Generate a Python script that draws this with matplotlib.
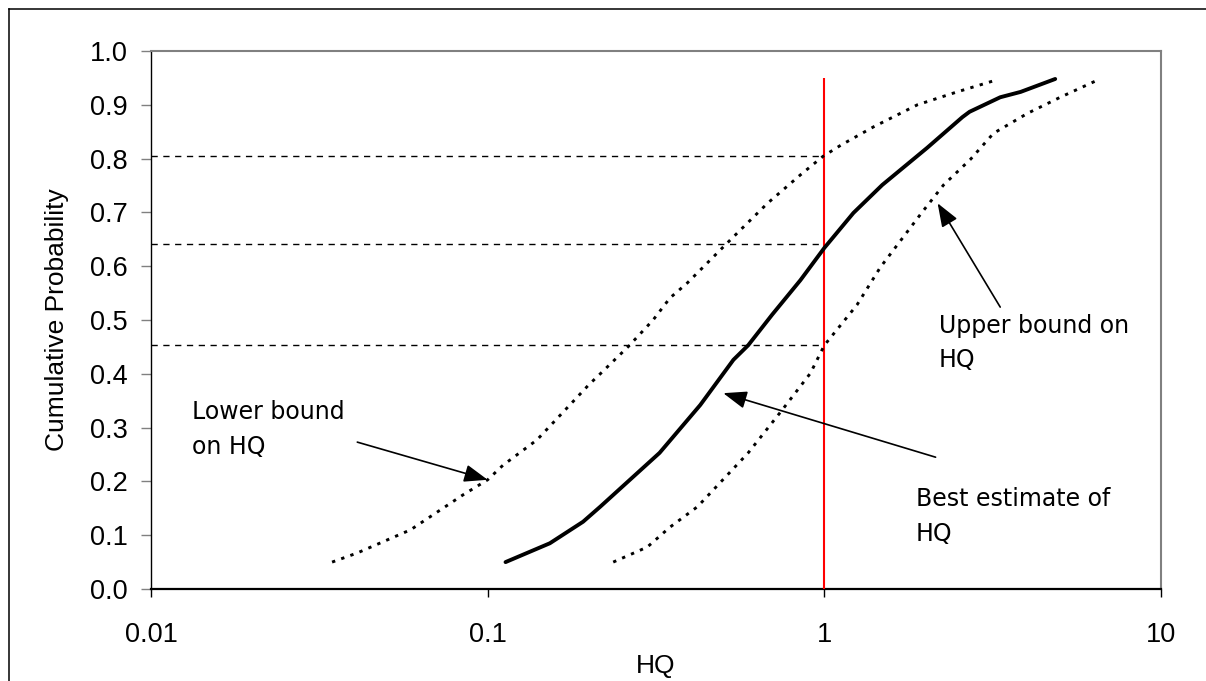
import matplotlib
matplotlib.use("Agg")
import matplotlib.pyplot as plt
from matplotlib.lines import Line2D
from matplotlib.ticker import NullLocator

# ---- data ----
best_x = [0.113, 0.153, 0.192, 0.216, 0.324, 0.428, 0.537, 0.594, 0.70, 0.849,
          1.0, 1.22, 1.486, 2.02, 2.57, 2.70, 3.33, 3.83, 4.85]
best_y = [0.05, 0.085, 0.125, 0.153, 0.253, 0.342, 0.426, 0.453, 0.51, 0.574,
          0.634, 0.699, 0.751, 0.82, 0.877, 0.887, 0.914, 0.924, 0.948]

lower_x = [0.0345, 0.041, 0.059, 0.0845, 0.10, 0.111, 0.14, 0.17, 0.20, 0.216,
           0.262, 0.31, 0.348, 0.392, 0.526, 0.678, 0.85, 0.99, 1.12, 1.40,
           1.89, 2.48, 3.16]
lower_y = [0.05, 0.067, 0.11, 0.175, 0.203, 0.23, 0.277, 0.333, 0.38, 0.40,
           0.451, 0.50, 0.541, 0.569, 0.649, 0.717, 0.77, 0.804, 0.825, 0.859,
           0.90, 0.924, 0.944]

upper_x = [0.236, 0.298, 0.348, 0.42, 0.594, 0.75, 0.909, 1.0, 1.25, 1.467,
           1.95, 2.26, 2.72, 3.18, 4.01, 5.02, 6.38]
upper_y = [0.05, 0.078, 0.115, 0.153, 0.253, 0.333, 0.401, 0.453, 0.528, 0.598,
           0.70, 0.751, 0.799, 0.847, 0.884, 0.914, 0.944]

ref_levels = [0.805, 0.641, 0.453]   # horizontal dashed read-off lines
hq_threshold = 1.0
threshold_top = 0.95

x_ticks = [0.01, 0.1, 1, 10]
x_tick_labels = ["0.01", "0.1", "1", "10"]
y_ticks = [i / 10 for i in range(11)]
y_tick_labels = [f"{v:.1f}" for v in y_ticks]

plt.rcParams["lines.scale_dashes"] = False

fig = plt.figure(figsize=(12.06, 6.81), dpi=100)
W, H = 1206, 681
ax = fig.add_axes([151 / W, 1 - 589 / H, (1161 - 151) / W, (589 - 51) / H])

ax.set_xscale("log")
ax.set_xlim(0.01, 10)
ax.set_ylim(0, 1.0)

# reference lines
ax.hlines(ref_levels, xmin=0.01, xmax=hq_threshold, colors="black",
          linewidth=1.0, linestyles=(0, (4.5, 4.0)), zorder=2)
ax.vlines(hq_threshold, 0, threshold_top, colors="red", linewidth=1.5, zorder=3)

# curves
dot = (0, (2.4, 4.6))
ax.plot(lower_x, lower_y, color="black", linewidth=2.1, linestyle=dot, zorder=4)
ax.plot(upper_x, upper_y, color="black", linewidth=2.1, linestyle=dot, zorder=4)
ax.plot(best_x, best_y, color="black", linewidth=2.8, solid_capstyle="round", zorder=5)

# annotations
afont = dict(family="DejaVu Sans", size=17)
arrow = dict(arrowstyle="-|>,head_length=0.8,head_width=0.3", mutation_scale=18,
             color="black", lw=1.2, shrinkA=0, shrinkB=0)

ax.annotate("", xy=(0.100, 0.203), xytext=(0.041, 0.273), arrowprops=arrow, zorder=6)
ax.annotate("", xy=(0.501, 0.364), xytext=(2.14, 0.245), arrowprops=arrow, zorder=6)
ax.annotate("", xy=(2.17, 0.717), xytext=(3.33, 0.524), arrowprops=arrow, zorder=6)

ax.text(0.01324, 0.351, "Lower bound\non HQ", va="top", ha="left",
        linespacing=1.55, **afont)
ax.text(1.87, 0.189, "Best estimate of\nHQ", va="top", ha="left",
        linespacing=1.55, **afont)
ax.text(2.19, 0.512, "Upper bound on\nHQ", va="top", ha="left",
        linespacing=1.55, **afont)

# axes styling
ax.set_xticks(x_ticks)
ax.set_xticklabels(x_tick_labels)
ax.xaxis.set_minor_locator(NullLocator())
ax.set_yticks(y_ticks)
ax.set_yticklabels(y_tick_labels)

tfont = "Liberation Sans"
for lab in ax.get_xticklabels() + ax.get_yticklabels():
    lab.set_fontfamily(tfont)
    lab.set_fontsize(19.5)

ax.tick_params(axis="x", direction="out", length=6, width=1, color="black", pad=18)
ax.tick_params(axis="y", direction="out", length=7, width=1, color="#808080", pad=10)

ax.spines["left"].set_color("black")
ax.spines["left"].set_linewidth(1.0)
ax.spines["bottom"].set_color("black")
ax.spines["bottom"].set_linewidth(1.6)
ax.spines["top"].set_color("#808080")
ax.spines["top"].set_linewidth(1.5)
ax.spines["right"].set_color("#808080")
ax.spines["right"].set_linewidth(1.5)

ax.set_xlabel("HQ", fontfamily=tfont, fontsize=19, labelpad=4)
ax.set_ylabel("Cumulative Probability", fontfamily=tfont, fontsize=19, labelpad=15)

# outer chart frame (left and top edges visible)
fig.add_artist(Line2D([9 / W, 9 / W], [0, 1 - 9 / H], transform=fig.transFigure,
                      color="black", linewidth=1.1))
fig.add_artist(Line2D([9 / W, 1], [1 - 9 / H, 1 - 9 / H], transform=fig.transFigure,
                      color="black", linewidth=1.1))

fig.savefig("out.png", dpi=100, facecolor="white")
